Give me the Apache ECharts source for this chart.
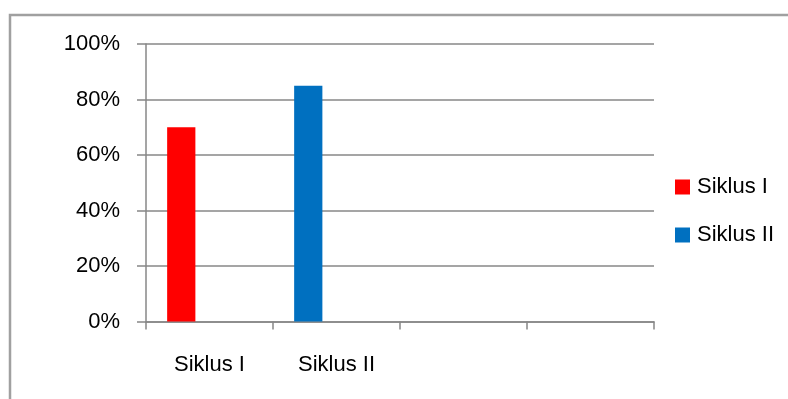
<!DOCTYPE html>
<html>
<head>
<meta charset="utf-8">
<script src="https://cdn.jsdelivr.net/npm/echarts@6/dist/echarts.min.js"></script>
<style>html,body{margin:0;padding:0;background:#fff}#c{width:788px;height:399px}</style>
</head>
<body>
<div id="c"></div>
<script>
var categories = ['Siklus I', 'Siklus II', '', ''];
var siklusI = [70, '-', '-', '-'];
var siklusII = ['-', 85, '-', '-'];
var emptyA = ['-', '-', '-', '-'];
var emptyB = ['-', '-', '-', '-'];
var yTicks = [0, 20, 40, 60, 80, 100];

var chart = echarts.init(document.getElementById('c'), null, {renderer: 'canvas'});
var FONT = 'Liberation Sans';
var AX = '#878787';
chart.setOption({
  animation: false,
  textStyle: {fontFamily: FONT},
  graphic: [
    {type: 'polyline', shape: {points: [[10, 399], [10, 15], [788, 15]]},
     style: {stroke: '#a0a0a0', lineWidth: 2.5, fill: null}}
  ],
  grid: {left: 146, right: 134, top: 44, bottom: 77.5},
  legend: {
    orient: 'vertical', left: 675, top: 176, padding: 0,
    data: ['Siklus I', 'Siklus II'],
    itemWidth: 15, itemHeight: 15, itemGap: 26,
    icon: 'rect',
    textStyle: {fontFamily: FONT, fontSize: 22, color: '#000', lineHeight: 22, padding: [0, 0, 0, 2]}
  },
  xAxis: {
    type: 'category', data: categories,
    axisLine: {lineStyle: {color: AX, width: 1.5}},
    axisTick: {show: true, length: 8, lineStyle: {color: AX, width: 1.5}},
    axisLabel: {fontFamily: FONT, fontSize: 22, color: '#000', margin: 32, lineHeight: 22}
  },
  yAxis: {
    type: 'value', min: yTicks[0], max: yTicks[yTicks.length - 1], interval: 20,
    axisLine: {show: true, lineStyle: {color: AX, width: 1.5}},
    axisTick: {show: true, length: 9, lineStyle: {color: AX, width: 1.5}},
    splitLine: {lineStyle: {color: AX, width: 1.5}},
    axisLabel: {fontFamily: FONT, fontSize: 22, color: '#000', margin: 26,
      formatter: function (v) { return v + '%'; }}
  },
  series: [
    {name: 'Siklus I', type: 'bar', stack: 's', data: siklusI,
     itemStyle: {color: '#ff0000'}, barGap: '0%', barCategoryGap: '33.3%'},
    {name: 'Siklus II', type: 'bar', stack: 's', data: siklusII,
     itemStyle: {color: '#0070c0'}},
    {name: 'e1', type: 'bar', data: emptyA, itemStyle: {color: '#fff'}},
    {name: 'e2', type: 'bar', data: emptyB, itemStyle: {color: '#fff'}}
  ]
});
</script>
</body>
</html>
